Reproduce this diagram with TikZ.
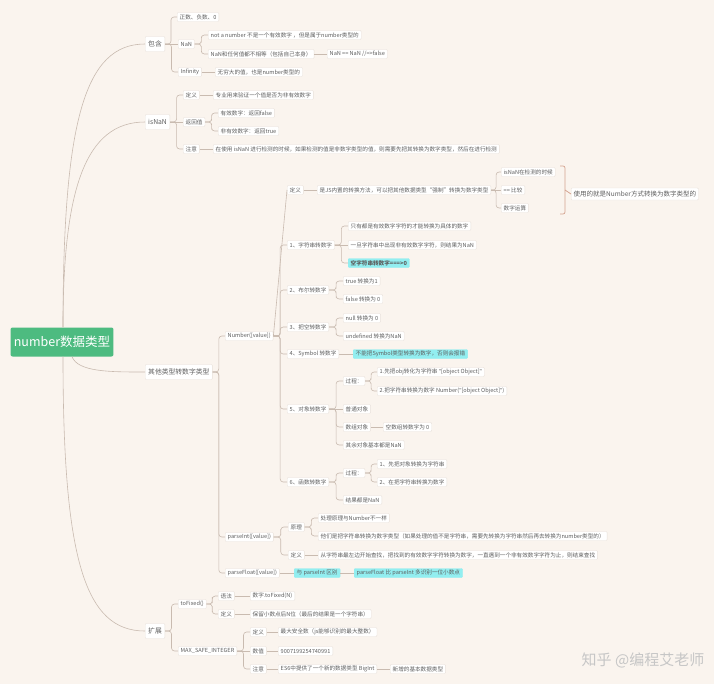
\documentclass[tikz,border=0pt]{standalone}
\usepackage{fontspec}
\setmainfont{Noto Sans CJK SC}
\newfontfamily\latinf{Noto Sans}
\usetikzlibrary{calc}
\definecolor{bgc}{HTML}{FAF4EE}
\definecolor{linkc}{HTML}{C9BBB0}
\definecolor{boxc}{HTML}{E8E0D9}
\definecolor{textc}{HTML}{5E5E5E}
\definecolor{hlc}{HTML}{92EEF0}
\definecolor{rootc}{HTML}{4DBB80}
\definecolor{brkc}{HTML}{D4A390}
\newcommand{\lk}[2]{\draw[link] (#1.east) -| ($(#1.east)!.5!(#2.west)$) |- (#2.west);}
\newcommand{\lks}[2]{\draw[link] (#1.east) -- (#2.west);}
\newcommand{\dq}{{\latinf"}}

\begin{document}
\begin{tikzpicture}[
  x=1pt, y=-1pt,
  box/.style={draw=boxc, fill=white, rounded corners=1pt, anchor=west,
    inner xsep=2.5pt, inner ysep=1pt, minimum height=9pt,
    font=\fontsize{5.6}{6}\selectfont, text=textc},
  hl/.style={box, fill=hlc, draw=hlc},
  topic/.style={box, inner xsep=3pt, minimum height=15pt,
    font=\fontsize{6.8}{8}\selectfont},
  rootbox/.style={fill=rootc, rounded corners=2pt, minimum width=100pt,
    minimum height=29pt, text=white, font=\fontsize{12.5}{14}\selectfont},
  sumbox/.style={box, minimum height=12pt, font=\fontsize{6.5}{7}\selectfont},
  link/.style={draw=linkc, line width=0.6pt, rounded corners=3pt},
  brk/.style={draw=brkc, line width=0.7pt, rounded corners=2pt},
  wm/.style={text=gray!45, font=\fontsize{15}{17}\selectfont}
  ]

\fill[white] (0,0) rectangle (720,689);
\fill[bgc] (0,0) rectangle (714,684);
\useasboundingbox (0,0) rectangle (720,689);

\node[rootbox] (root) at (62,342) {number数据类型};

\node[topic] (inc) at (145,44) {包含};
\node[topic] (isn) at (145,122) {isNaN};
\node[topic] (conv) at (145,372) {其他类型转数字类型};
\node[topic] (ext) at (145,631) {扩展};

\draw[link] ($(root.north)+(1,0)$) .. controls (63,120) and (85,44) .. (inc.west);
\draw[link] ($(root.north)+(1,0)$) .. controls (63,190) and (85,122) .. (isn.west);
\draw[link] ($(root.south)+(10,0)$) .. controls (78,372) and (110,372) .. (conv.west);
\draw[link] ($(root.south)+(1,0)$) .. controls (63,560) and (85,631) .. (ext.west);

% 包含
\node[box] (inc1) at (177,17) {正数、负数、0};
\node[box] (incnan) at (178,44) {NaN};
\node[box] (nan1) at (208,35) {not a number 不是一个有效数字 ，但是属于number类型的};
\node[box] (nan2) at (208,54) {NaN和任何值都不相等（包括自己本身）};
\node[box] (nan3) at (327,54) {NaN == NaN //=>false};
\node[box] (inf) at (178,72) {Infinity};
\node[box] (inf1) at (215,72) {无穷大的值，也是number类型的};
\lk{inc}{inc1} \lks{inc}{incnan} \lk{inc}{inf}
\lk{incnan}{nan1} \lk{incnan}{nan2} \lks{nan2}{nan3} \lks{inf}{inf1}

% isNaN
\node[box] (isdef) at (183,95) {定义};
\node[box] (isdef1) at (213,95) {专业用来验证一个值是否为非有效数字};
\node[box] (isret) at (183,122) {返回值};
\node[box] (isret1) at (218,113) {有效数字：返回false};
\node[box] (isret2) at (218,131) {非有效数字：返回true};
\node[box] (isnote) at (183,149) {注意};
\node[box] (isnote1) at (213,149) {在使用 isNaN 进行检测的时候，如果检测的值是非数字类型的值，则需要先把其转换为数字类型，然后在进行检测};
\lk{isn}{isdef} \lks{isn}{isret} \lk{isn}{isnote}
\lks{isdef}{isdef1} \lk{isret}{isret1} \lk{isret}{isret2} \lks{isnote}{isnote1}

% 其他类型转数字类型
\node[box] (num) at (225,336) {Number([value])};
\node[box] (pint) at (225,537) {parseInt([value])};
\node[box] (pflt) at (225,573) {parseFloat([value])};
\lk{conv}{num} \lk{conv}{pint} \lk{conv}{pflt}

\node[box] (ndef) at (287,190) {定义};
\node[box] (ndef1) at (317,190) {是JS内置的转换方法，可以把其他数据类型“强制”转换为数字类型};
\node[box] (use1) at (501,172) {isNaN在检测的时候};
\node[box] (use2) at (501,190) {== 比较};
\node[box] (use3) at (501,208) {数字运算};
\coordinate (bt) at (560,166);
\coordinate (bb) at (560,214);
\node[sumbox] (sum) at (571,194) {使用的就是Number方式转换为数字类型的};
\draw[brk] (bt) -- ++(5,0) |- (bb);
\draw[brk] ($(bt)!.5!(bb)+(5,0)$) -- (sum.west);

\node[box] (nstr) at (287,245) {1、字符串转数字};
\node[box] (nstr1) at (348,226) {只有都是有效数字字符的才能转换为具体的数字};
\node[box] (nstr2) at (348,245) {一旦字符串中出现非有效数字字符，则结果为NaN};
\node[hl, font=\fontsize{5.6}{6}\selectfont\bfseries] (nstr3) at (348,263) {空字符串转数字===>0};
\node[box] (nbool) at (287,290) {2、布尔转数字};
\node[box] (nbool1) at (343,281) {true 转换为1};
\node[box] (nbool2) at (343,299) {false 转换为 0};
\node[box] (nnull) at (287,327) {3、把空转数字};
\node[box] (nnull1) at (343,318) {null 转换为 0};
\node[box] (nnull2) at (343,336) {undefined 转换为NaN};
\node[box] (nsym) at (287,354) {4、Symbol 转数字};
\node[hl] (nsym1) at (353,354) {不能把Symbol类型转换为数字，否则会报错};
\node[box] (nobj) at (287,409) {5、对象转数字};
\node[box] (nobjp) at (343,381) {过程：};
\node[box] (nobjp1) at (377,372) {1.先把obj转化为字符串 \dq[object Object]\dq};
\node[box] (nobjp2) at (377,391) {2.把字符串转换为数字 Number(\dq[object Object]\dq)};
\node[box] (nobj2) at (343,409) {普通对象};
\node[box] (nobj3) at (343,427) {数组对象};
\node[box] (nobj31) at (383,427) {空数组转数字为 0};
\node[box] (nobj4) at (343,445) {其余对象基本都是NaN};
\node[box] (nfun) at (287,482) {6、函数转数字};
\node[box] (nfunp) at (343,473) {过程：};
\node[box] (nfunp1) at (377,464) {1、先把对象转换为字符串};
\node[box] (nfunp2) at (377,482) {2、在把字符串转换为数字};
\node[box] (nfun2) at (343,500) {结果都是NaN};

\lks{num}{ndef} \lk{num}{nstr} \lk{num}{nbool} \lk{num}{nnull}
\lk{num}{nsym} \lk{num}{nobj} \lk{num}{nfun}
\lks{ndef}{ndef1}
\lk{ndef1}{use1} \lks{ndef1}{use2} \lk{ndef1}{use3}
\lk{nstr}{nstr1} \lks{nstr}{nstr2} \lk{nstr}{nstr3}
\lk{nbool}{nbool1} \lk{nbool}{nbool2}
\lk{nnull}{nnull1} \lk{nnull}{nnull2}
\lks{nsym}{nsym1}
\lk{nobj}{nobjp} \lks{nobj}{nobj2} \lk{nobj}{nobj3} \lk{nobj}{nobj4}
\lk{nobjp}{nobjp1} \lk{nobjp}{nobjp2} \lks{nobj3}{nobj31}
\lk{nfun}{nfunp} \lk{nfun}{nfun2}
\lk{nfunp}{nfunp1} \lk{nfunp}{nfunp2}

\node[box] (pprin) at (288,527) {原理};
\node[box] (pprin1) at (318,518) {处理原理与Number不一样};
\node[box] (pprin2) at (318,536) {他们是把字符串转换为数字类型（如果处理的值不是字符串，需要先转换为字符串然后再去转换为number类型的）};
\node[box] (pdef) at (288,555) {定义};
\node[box] (pdef1) at (318,555) {从字符串最左边开始查找，把找到的有效数字字符转换为数字，一直遇到一个非有效数字字符为止，则结束查找};
\lk{pint}{pprin} \lk{pint}{pdef}
\lk{pprin}{pprin1} \lk{pprin}{pprin2} \lks{pdef}{pdef1}

\node[hl] (pdiff) at (294,573) {与 parseInt 区别};
\node[hl] (pdiff1) at (354,573) {parseFloat 比 parseInt 多识别一位小数点};
\lks{pflt}{pdiff} \lks{pdiff}{pdiff1}

% 扩展
\node[box] (tofx) at (178,604) {toFixed()};
\node[box] (tofs) at (218,596) {语法};
\node[box] (tofs1) at (250,596) {数字.toFixed(N)};
\node[box] (tofd) at (218,614) {定义};
\node[box] (tofd1) at (250,614) {保留小数点后N位（最后的结果是一个字符串）};
\node[box] (msi) at (178,651) {MAX\_SAFE\_INTEGER};
\node[box] (msid) at (250,632) {定义};
\node[box] (msid1) at (278,632) {最大安全数（js能够识别的最大整数）};
\node[box] (msiv) at (250,651) {数值};
\node[box] (msiv1) at (278,651) {9007199254740991};
\node[box] (msin) at (250,669) {注意};
\node[box] (msin1) at (278,669) {ES6中提供了一个新的数据类型 BigInt};
\node[box] (msin2) at (390,669) {新增的基本数据类型};
\lk{ext}{tofx} \lk{ext}{msi}
\lk{tofx}{tofs} \lk{tofx}{tofd} \lks{tofs}{tofs1} \lks{tofd}{tofd1}
\lk{msi}{msid} \lks{msi}{msiv} \lk{msi}{msin}
\lks{msid}{msid1} \lks{msiv}{msiv1} \lks{msin}{msin1} \lks{msin1}{msin2}

\node[wm] (wm) at (643,660) {知乎 @编程艾老师};

\end{tikzpicture}
\end{document}
